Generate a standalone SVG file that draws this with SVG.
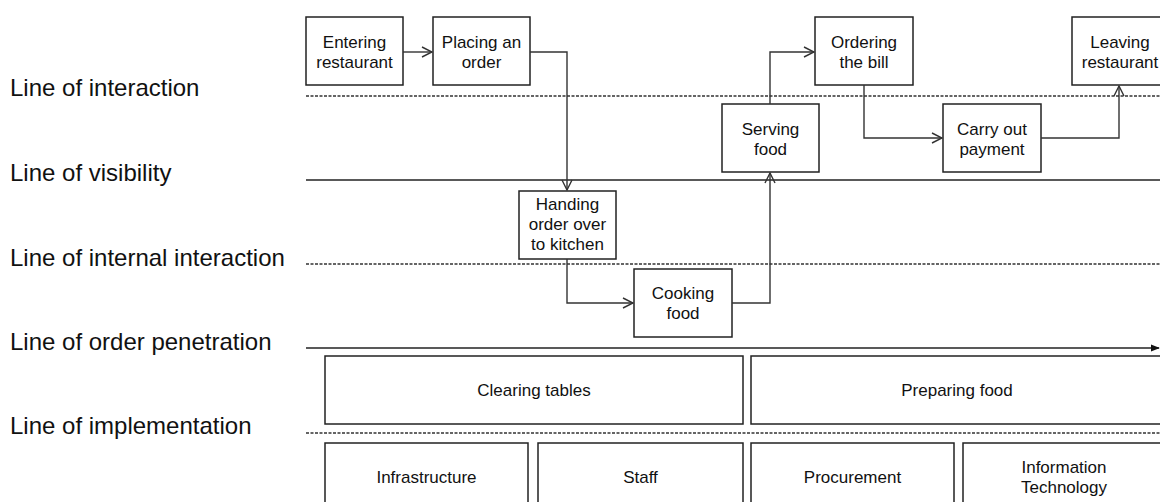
<svg xmlns="http://www.w3.org/2000/svg" width="1160" height="502" viewBox="0 0 1160 502">
  <style>
    .lbl { font-family: "Liberation Sans", Arial, sans-serif; font-size: 24px; fill: #111; }
    .txt { font-family: "Liberation Sans", Arial, sans-serif; font-size: 17px; fill: #111; text-anchor: middle; }
    .box { fill: #fff; stroke: #222; stroke-width: 1.5; }
    .solid { stroke: #222; stroke-width: 1.5; fill: none; }
    .dash { stroke: #333; stroke-width: 1.3; stroke-dasharray: 3 1.5; fill: none; }
    .conn { stroke: #333; stroke-width: 1.4; fill: none; marker-end: url(#open); }
  </style>
  <defs>
    <marker id="open" viewBox="0 0 12 12" refX="11" refY="6" markerWidth="12" markerHeight="12" markerUnits="userSpaceOnUse" orient="auto">
      <path d="M1,1 L11,6 L1,11" fill="none" stroke="#333" stroke-width="1.4"/>
    </marker>
    <marker id="solidhead" viewBox="0 0 10 10" refX="9" refY="5" markerWidth="9" markerHeight="9" markerUnits="userSpaceOnUse" orient="auto">
      <path d="M0,1 L10,5 L0,9 Z" fill="#111"/>
    </marker>
  </defs>
  <rect width="1160" height="502" fill="#fff"/>

  <!-- swimlane boundaries and their names -->
  <g id="lines">
    <text class="lbl" x="10" y="96">Line of interaction</text>
    <text class="lbl" x="10" y="181">Line of visibility</text>
    <text class="lbl" x="10" y="266">Line of internal interaction</text>
    <text class="lbl" x="10" y="350">Line of order penetration</text>
    <text class="lbl" x="10" y="434">Line of implementation</text>
    <line class="dash" x1="306" y1="96" x2="1160" y2="96"/>
    <line class="solid" x1="306" y1="180" x2="1160" y2="180"/>
    <line class="dash" x1="306" y1="264" x2="1160" y2="264"/>
    <line class="solid" x1="306" y1="348" x2="1159" y2="348" marker-end="url(#solidhead)"/>
    <line class="dash" x1="306" y1="433" x2="1160" y2="433"/>
  </g>

  <!-- process steps -->
  <g id="entering">
    <rect class="box" x="306" y="17" width="97" height="68"/>
    <text class="txt" x="354.5" y="48">Entering</text>
    <text class="txt" x="354.5" y="68">restaurant</text>
  </g>
  <g id="placing">
    <rect class="box" x="433" y="17" width="97" height="68"/>
    <text class="txt" x="481.5" y="48">Placing an</text>
    <text class="txt" x="481.5" y="68">order</text>
  </g>
  <g id="ordering">
    <rect class="box" x="815" y="17" width="98" height="68"/>
    <text class="txt" x="864" y="48">Ordering</text>
    <text class="txt" x="864" y="68">the bill</text>
  </g>
  <g id="leaving">
    <rect class="box" x="1072" y="17" width="97" height="68"/>
    <text class="txt" x="1120" y="48">Leaving</text>
    <text class="txt" x="1120" y="68">restaurant</text>
  </g>
  <g id="serving">
    <rect class="box" x="722" y="104" width="97" height="68"/>
    <text class="txt" x="770.5" y="135">Serving</text>
    <text class="txt" x="770.5" y="155">food</text>
  </g>
  <g id="payment">
    <rect class="box" x="943" y="104" width="98" height="68"/>
    <text class="txt" x="992" y="135">Carry out</text>
    <text class="txt" x="992" y="155">payment</text>
  </g>
  <g id="handing">
    <rect class="box" x="519" y="191" width="97" height="68"/>
    <text class="txt" x="567.5" y="210">Handing</text>
    <text class="txt" x="567.5" y="230">order over</text>
    <text class="txt" x="567.5" y="250">to kitchen</text>
  </g>
  <g id="cooking">
    <rect class="box" x="634" y="269" width="98" height="68"/>
    <text class="txt" x="683" y="299">Cooking</text>
    <text class="txt" x="683" y="319">food</text>
  </g>

  <!-- support activities -->
  <g id="clearing">
    <rect class="box" x="325" y="356" width="418" height="68"/>
    <text class="txt" x="534" y="396">Clearing tables</text>
  </g>
  <g id="preparing">
    <rect class="box" x="751" y="356" width="420" height="68"/>
    <text class="txt" x="957" y="396">Preparing food</text>
  </g>
  <g id="infrastructure">
    <rect class="box" x="325" y="443" width="203" height="70"/>
    <text class="txt" x="426.5" y="483">Infrastructure</text>
  </g>
  <g id="staff">
    <rect class="box" x="538" y="443" width="205" height="70"/>
    <text class="txt" x="640.5" y="483">Staff</text>
  </g>
  <g id="procurement">
    <rect class="box" x="751" y="443" width="203" height="70"/>
    <text class="txt" x="852.5" y="483">Procurement</text>
  </g>
  <g id="it">
    <rect class="box" x="963" y="443" width="210" height="70"/>
    <text class="txt" x="1064" y="473">Information</text>
    <text class="txt" x="1064" y="493">Technology</text>
  </g>

  <!-- flow between steps -->
  <g id="connectors">
    <path class="conn" d="M403,52 H432"/>
    <path class="conn" d="M530,52 H567 V190"/>
    <path class="conn" d="M567,259 V303 H633"/>
    <path class="conn" d="M732,303 H770 V173"/>
    <path class="conn" d="M770,104 V52 H814"/>
    <path class="conn" d="M864,85 V138 H942"/>
    <path class="conn" d="M1041,138 H1119 V86"/>
  </g>
</svg>
